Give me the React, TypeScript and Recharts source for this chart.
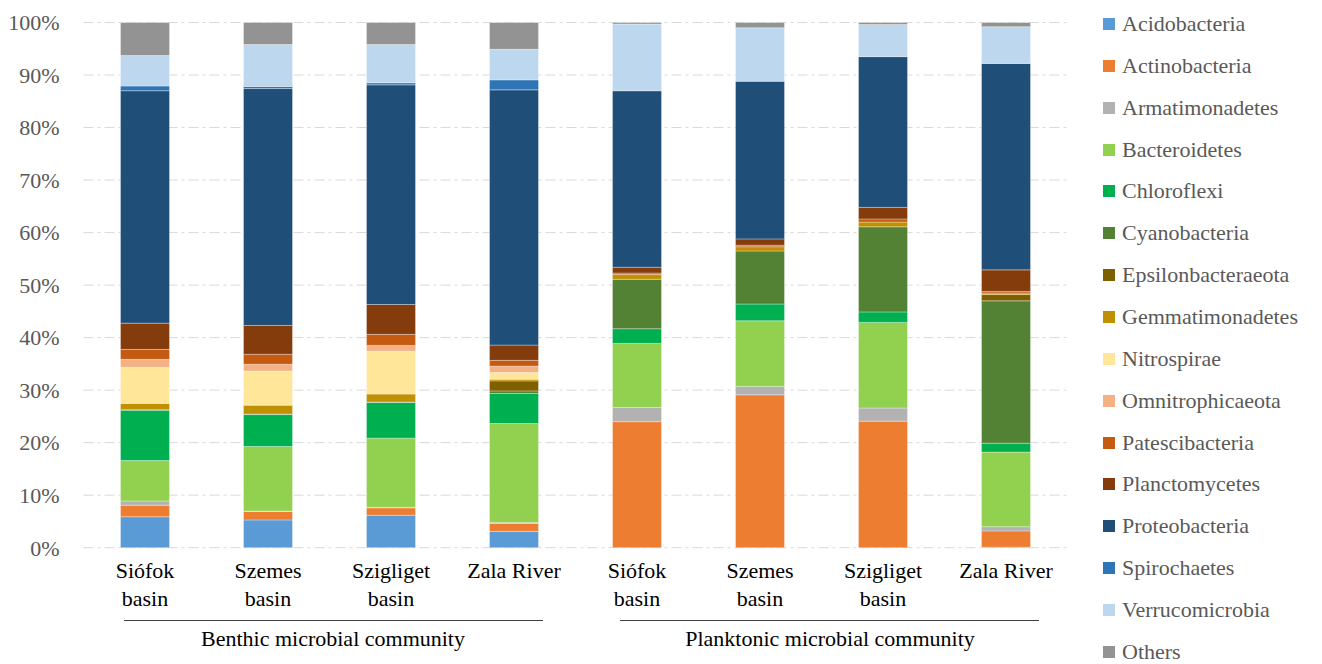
import { BarChart, Bar, XAxis, YAxis, CartesianGrid } from 'recharts';

// sample sites, benthic first then planktonic
const siteKeys = ['bS', 'bSz', 'bSg', 'bZ', 'pS', 'pSz', 'pSg', 'pZ'];
const siteLabels = [
  ['Siófok', 'basin'],
  ['Szemes', 'basin'],
  ['Szigliget', 'basin'],
  ['Zala River'],
  ['Siófok', 'basin'],
  ['Szemes', 'basin'],
  ['Szigliget', 'basin'],
  ['Zala River'],
];

// relative abundance (%) per phylum, same order as siteKeys
const acidobacteria = [5.9, 5.3, 6.2, 3.1, 0, 0, 0, 0.1];
const actinobacteria = [2.2, 1.6, 1.4, 1.5, 24.0, 29.1, 24.1, 3.1];
const armatimonadetes = [0.8, 0.1, 0.1, 0.2, 2.7, 1.6, 2.5, 0.8];
const bacteroidetes = [7.7, 12.3, 13.2, 18.8, 12.2, 12.5, 16.3, 14.2];
const chloroflexi = [9.6, 6.1, 6.8, 5.7, 2.8, 3.2, 2.0, 1.7];
const cyanobacteria = [0.1, 0.1, 0.1, 0.5, 9.4, 10.1, 16.2, 27.1];
const epsilonbacteraeota = [0, 0, 0, 1.9, 0, 0, 0, 1.2];
const gemmatimonadetes = [1.2, 1.7, 1.5, 0.3, 0.9, 0.8, 0.9, 0.3];
const nitrospirae = [6.9, 6.5, 8.2, 1.3, 0, 0, 0, 0];
const omnitrophicaeota = [1.5, 1.3, 1.1, 1.2, 0, 0, 0, 0];
const patescibacteria = [1.9, 1.9, 2.1, 1.1, 0.3, 0.3, 0.6, 0.3];
const planctomycetes = [5.0, 5.5, 5.7, 2.9, 1.1, 1.2, 2.2, 4.1];
const proteobacteria = [44.3, 45.2, 41.9, 48.5, 33.6, 30.0, 28.7, 39.3];
const spirochaetes = [0.9, 0.4, 0.4, 1.9, 0, 0, 0, 0];
const verrucomicrobia = [5.8, 8.0, 7.3, 5.8, 12.7, 10.2, 6.1, 7.0];
const others = [6.3, 4.2, 4.2, 5.1, 0.3, 1.0, 0.4, 0.8];

const yTicks = [0, 0.1, 0.2, 0.3, 0.4, 0.5, 0.6, 0.7, 0.8, 0.9, 1];

const groups = ['Benthic microbial community', 'Planktonic microbial community'];

const phyla = [
  { name: 'Acidobacteria', values: acidobacteria, color: '#5B9BD5' },
  { name: 'Actinobacteria', values: actinobacteria, color: '#ED7D31' },
  { name: 'Armatimonadetes', values: armatimonadetes, color: '#B2B2B2' },
  { name: 'Bacteroidetes', values: bacteroidetes, color: '#92D050' },
  { name: 'Chloroflexi', values: chloroflexi, color: '#00B050' },
  { name: 'Cyanobacteria', values: cyanobacteria, color: '#548235' },
  { name: 'Epsilonbacteraeota', values: epsilonbacteraeota, color: '#7F6000' },
  { name: 'Gemmatimonadetes', values: gemmatimonadetes, color: '#BF9000' },
  { name: 'Nitrospirae', values: nitrospirae, color: '#FFE699' },
  { name: 'Omnitrophicaeota', values: omnitrophicaeota, color: '#F4B183' },
  { name: 'Patescibacteria', values: patescibacteria, color: '#C55A11' },
  { name: 'Planctomycetes', values: planctomycetes, color: '#843C0C' },
  { name: 'Proteobacteria', values: proteobacteria, color: '#1F4E79' },
  { name: 'Spirochaetes', values: spirochaetes, color: '#2E75B6' },
  { name: 'Verrucomicrobia', values: verrucomicrobia, color: '#BDD7EE' },
  { name: 'Others', values: others, color: '#939393' },
];

const data = siteKeys.map((key, i) => {
  const row: Record<string, any> = { key };
  phyla.forEach((p) => {
    row[p.name] = p.values[i];
  });
  return row;
});

const FONT = "'Liberation Serif', 'Times New Roman', Times, 'DejaVu Serif', serif";

function SiteTick(props: any) {
  const { x, y, payload } = props;
  const idx = siteKeys.indexOf(payload.value);
  const lines = siteLabels[idx] || [];
  return (
    <text x={x} y={y + 22} textAnchor="middle" fill="#000" fontSize={22} style={{ fontFamily: FONT }}>
      {lines.map((l, i) => (
        <tspan key={i} x={x} dy={i === 0 ? 0 : 28}>
          {l}
        </tspan>
      ))}
    </text>
  );
}

export default function App() {
  return (
    <div style={{ position: 'absolute', left: 0, top: 0, width: 1322, height: 664, background: '#fff', fontFamily: FONT }}>
      <BarChart
        width={1322}
        height={664}
        data={data}
        stackOffset="expand"
        margin={{ top: 22.5, right: 254.5, bottom: 86.3, left: 0 }}
        barSize={49}
        style={{ fontFamily: FONT }}
      >
        <CartesianGrid vertical={false} stroke="#d9d9d9" strokeDasharray="10 4 3 4" />
        <XAxis dataKey="key" height={30} axisLine={false} tickLine={false} tick={<SiteTick />} interval={0} />
        <YAxis
          width={83.5}
          domain={[0, 1]}
          ticks={yTicks}
          axisLine={false}
          tickLine={false}
          tickFormatter={(v: number) => `${Math.round(v * 100)}%`}
          tick={{ fill: '#595959', fontSize: 22, style: { fontFamily: FONT } }}
          tickMargin={18}
        />
        {phyla.map((p) => (
          <Bar
            key={p.name}
            dataKey={p.name}
            stackId="a"
            fill={p.color}
            stroke="#ffffff"
            strokeOpacity={0.4}
            strokeWidth={0.8}
            isAnimationActive={false}
          />
        ))}
      </BarChart>

      {/* group brackets under the sites */}
      <div style={{ position: 'absolute', left: 124, top: 620, width: 419, borderTop: '1px solid #404040' }} />
      <div style={{ position: 'absolute', left: 620, top: 620, width: 419, borderTop: '1px solid #404040' }} />
      <div style={{ position: 'absolute', left: 83, top: 626, width: 500, textAlign: 'center', fontSize: 22, color: '#000' }}>
        {groups[0]}
      </div>
      <div style={{ position: 'absolute', left: 580, top: 626, width: 500, textAlign: 'center', fontSize: 22, color: '#000' }}>
        {groups[1]}
      </div>

      {/* legend */}
      <div style={{ position: 'absolute', left: 1103, top: 0 }}>
        {phyla.map((p, i) => (
          <div
            key={p.name}
            style={{ position: 'absolute', left: 0, top: 24 + i * 41.85 - 14, height: 28, display: 'flex', alignItems: 'center', whiteSpace: 'nowrap' }}
          >
            <span style={{ width: 12, height: 12, background: p.color, display: 'inline-block', marginRight: 7 }} />
            <span style={{ fontSize: 22, color: '#595959' }}>{p.name}</span>
          </div>
        ))}
      </div>
    </div>
  );
}
